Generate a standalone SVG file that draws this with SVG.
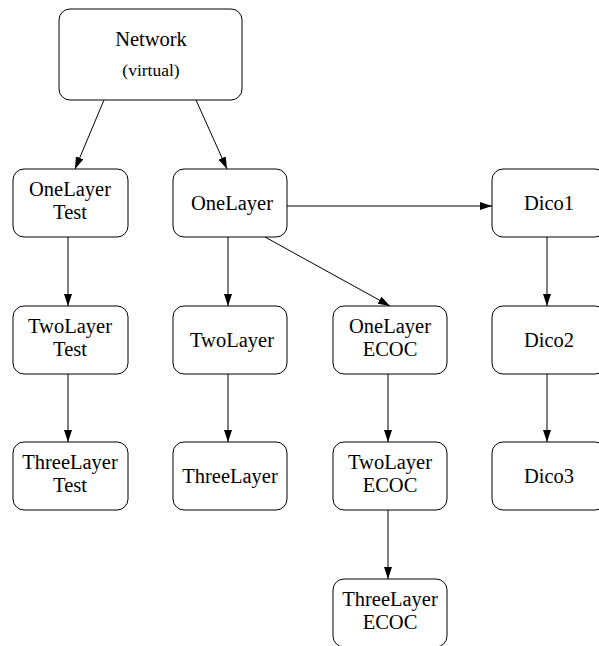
<svg xmlns="http://www.w3.org/2000/svg" width="599" height="646" viewBox="0 0 599 646">
<defs>
<style>
.box{fill:#fff;stroke:#000;stroke-width:1}
text{font-family:"Liberation Serif","Times New Roman",serif;font-size:20.5px;fill:#000;text-anchor:middle}
.small{font-size:17.5px}
.edge{stroke:#000;stroke-width:1;fill:none;marker-end:url(#arr)}
</style>
<marker id="arr" viewBox="0 0 12 8" refX="12" refY="4" markerWidth="12" markerHeight="8" markerUnits="userSpaceOnUse" orient="auto">
<path d="M0,0 L12,4 L0,8 Z" fill="#000"/>
</marker>
</defs>
<rect width="599" height="646" fill="#fff"/>
<g id="edges">
<line class="edge" x1="104" y1="100" x2="75" y2="169"/>
<line class="edge" x1="196" y1="100" x2="227" y2="169"/>
<line class="edge" x1="68" y1="237" x2="68" y2="306"/>
<line class="edge" x1="68" y1="374" x2="68" y2="442"/>
<line class="edge" x1="228" y1="237" x2="228" y2="306"/>
<line class="edge" x1="228" y1="374" x2="228" y2="442"/>
<line class="edge" x1="287" y1="206" x2="492" y2="206"/>
<line class="edge" x1="265" y1="237" x2="390" y2="306"/>
<line class="edge" x1="388" y1="374" x2="388" y2="442"/>
<line class="edge" x1="388" y1="510" x2="388" y2="579"/>
<line class="edge" x1="547" y1="237" x2="547" y2="306"/>
<line class="edge" x1="547" y1="374" x2="547" y2="442"/>
</g>
<g id="network">
<rect class="box" x="59" y="9" width="183" height="91" rx="11"/>
<text x="151" y="46">Network</text>
<text class="small" x="151" y="76">(virtual)</text>
</g>
<g id="onelayer-test">
<rect class="box" x="13" y="169" width="115" height="68" rx="11"/>
<text x="70" y="196">OneLayer</text>
<text x="70" y="218.5">Test</text>
</g>
<g id="onelayer">
<rect class="box" x="173" y="169" width="114" height="68" rx="11"/>
<text x="232" y="210">OneLayer</text>
</g>
<g id="dico1">
<rect class="box" x="492" y="169" width="114" height="68" rx="11"/>
<text x="549" y="210">Dico1</text>
</g>
<g id="twolayer-test">
<rect class="box" x="13" y="306" width="115" height="68" rx="11"/>
<text x="70" y="333">TwoLayer</text>
<text x="70" y="355.5">Test</text>
</g>
<g id="twolayer">
<rect class="box" x="173" y="306" width="114" height="68" rx="11"/>
<text x="232" y="347">TwoLayer</text>
</g>
<g id="onelayer-ecoc">
<rect class="box" x="333" y="306" width="114" height="68" rx="11"/>
<text x="390" y="333">OneLayer</text>
<text x="390" y="355.5">ECOC</text>
</g>
<g id="dico2">
<rect class="box" x="492" y="306" width="114" height="68" rx="11"/>
<text x="549" y="347">Dico2</text>
</g>
<g id="threelayer-test">
<rect class="box" x="13" y="442" width="115" height="68" rx="11"/>
<text x="70" y="469">ThreeLayer</text>
<text x="70" y="491.5">Test</text>
</g>
<g id="threelayer">
<rect class="box" x="173" y="442" width="114" height="68" rx="11"/>
<text x="230" y="483">ThreeLayer</text>
</g>
<g id="twolayer-ecoc">
<rect class="box" x="333" y="442" width="114" height="68" rx="11"/>
<text x="390" y="469">TwoLayer</text>
<text x="390" y="491.5">ECOC</text>
</g>
<g id="dico3">
<rect class="box" x="492" y="442" width="114" height="68" rx="11"/>
<text x="549" y="483">Dico3</text>
</g>
<g id="threelayer-ecoc">
<rect class="box" x="333" y="579" width="114" height="68" rx="11"/>
<text x="390" y="606">ThreeLayer</text>
<text x="390" y="628.5">ECOC</text>
</g>
</svg>
